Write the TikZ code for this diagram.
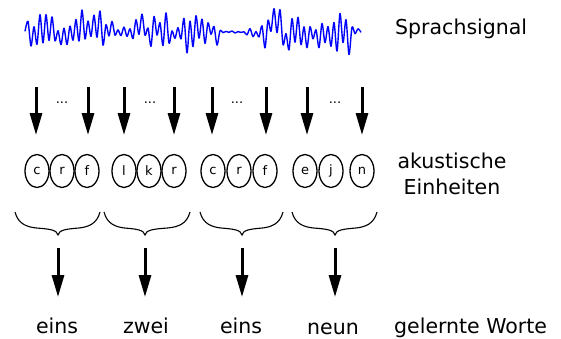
\documentclass[tikz,border=0pt]{standalone}
\usepackage{fontspec}
\setmainfont{DejaVu Sans}
\usetikzlibrary{arrows.meta,shapes.geometric}
\begin{document}
\begin{tikzpicture}[x=1pt,y=-1pt,
  declare function={env(\t)=(\t<113)?22:((\t<133)?5:((\t<220)?22:((\t<245)?1.5:((\t<262)?6:((\t<352)?22:5)))));},
  lbl/.style={font=\fontsize{20.5}{24}\selectfont, inner sep=0pt},
  unit/.style={draw, ellipse, line width=1.3pt, minimum width=24pt, minimum height=33pt, inner sep=0pt, font=\fontsize{13}{15}\selectfont},
  bigarrow/.style={line width=3pt, -{Triangle[width=12pt,length=22pt]}},
  bracepath/.style={line width=1.1pt},
  dotslbl/.style={font=\fontsize{13}{15}\selectfont, inner sep=0pt},
  wave/.style={blue, line width=1.4pt, line join=round}]
\useasboundingbox (0,0) rectangle (561,338);
% waveform
\pgfmathsetseed{5}
\draw[wave] plot[domain=0:112, samples=113, smooth] ({25+3*\x}, {32 + env(25+3*\x)*(cos(180*mod(\x,2))*(0.1+0.85*rnd) + 0.2*rand)});
% labels right
\node[lbl, anchor=base west] (sig) at (395,34) {Sprachsignal};
\node[lbl, anchor=base] (ak) at (452,168) {akustische};
\node[lbl, anchor=base] (ein) at (452,194) {Einheiten};
\node[lbl, anchor=base west] (gw) at (394,333) {gelernte Worte};
% top arrows
\foreach \i/\x in {1/36,2/88,3/124,4/174,5/212,6/266,7/307,8/362}{
  \coordinate (ts\i) at (\x,87);
  \coordinate (te\i) at (\x,135);
  \draw[bigarrow] (ts\i) -- (te\i);
}
\foreach \i/\x in {1/62,2/150,3/237,4/335}{
  \node[dotslbl] (d\i) at (\x,103) {...};
}
% acoustic units
\foreach \i/\x/\l in {1/37/c,2/62/r,3/87/f,4/124/l,5/149/k,6/174/r,7/213/c,8/239/r,9/265/f,10/305/e,11/331/j,12/362/n}{
  \node[unit] (u\i) at (\x,171) {\l};
}
% braces
\foreach \i/\a/\m/\b in {1/15/58/100,2/104/145/190,3/200/242/283,4/292/335/377}{
  \draw[bracepath] (\a,212) .. controls (\a+3,224) and (\a+12,227) .. ({(\a+\m)/2},228)
     .. controls (\m-8,229) and (\m-1,230) .. (\m,235)
     .. controls (\m+1,230) and (\m+8,229) .. ({(\m+\b)/2},228)
     .. controls (\b-12,227) and (\b-3,224) .. (\b,212);
  \coordinate (bs\i) at (\m,248);
  \coordinate (be\i) at (\m,297);
  \draw[bigarrow] (bs\i) -- (be\i);
}
% words
\node[lbl, anchor=base] (w1) at (57,333) {eins};
\node[lbl, anchor=base] (w2) at (146,333) {zwei};
\node[lbl, anchor=base] (w3) at (241,333) {eins};
\node[lbl, anchor=base] (w4) at (333,334) {neun};
\end{tikzpicture}
\end{document}
